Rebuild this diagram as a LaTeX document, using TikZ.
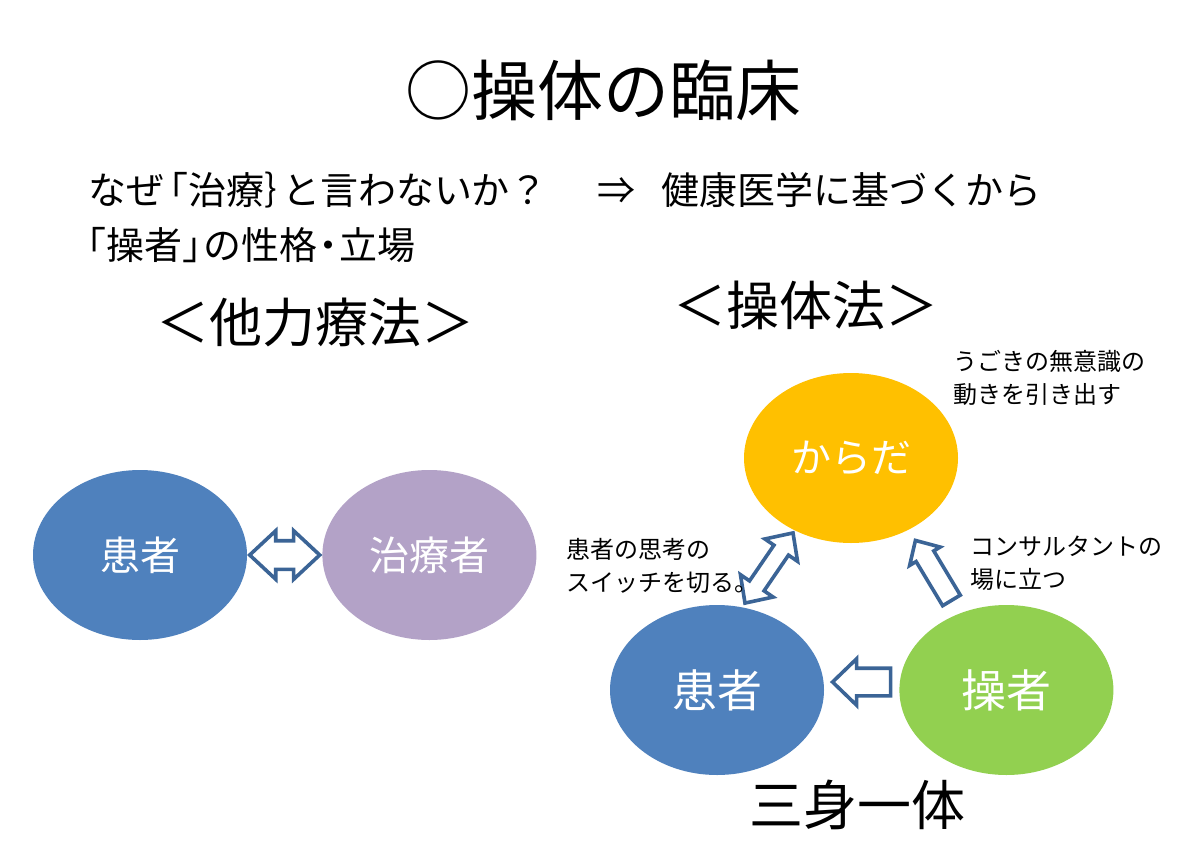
\documentclass[tikz,border=0pt]{standalone}
\usepackage{fontspec}
\setmainfont{Noto Sans CJK JP}
\usetikzlibrary{positioning, shapes.geometric, shapes.arrows, calc}
\definecolor{cKanja}{HTML}{4F81BD}
\definecolor{cChiryo}{HTML}{B3A2C7}
\definecolor{cKarada}{HTML}{FFC000}
\definecolor{cSosha}{HTML}{92D050}
\definecolor{cArrow}{HTML}{3B6496}
\newcommand{\fsz}[2]{\fontsize{#1}{#2}\selectfont}
\tikzset{
  blob/.style={
    ellipse,
    fill=#1,
    draw=none,
    minimum width=214pt,
    minimum height=170pt,
    text=white,
    font=\fsz{40}{44}
  },
  heading/.style={
    inner sep=0pt,
    font=\fsz{#1}{#1}
  },
  note/.style={
    anchor=north west,
    inner sep=0pt,
    align=left,
    font=\fsz{24}{33}
  },
  blockarrow/.style={
    draw=cArrow,
    fill=white,
    line width=3.6pt,
    inner xsep=0pt,
    minimum width=1pt
  }
}

\begin{document}
\begin{tikzpicture}[x=1pt, y=-1pt, node distance=75pt]
  \useasboundingbox[fill=white] (0,0) rectangle (1200,849);

  \node[heading=66] (title) at (603,90) {○操体の臨床};
  \node[heading=38, anchor=west] (why) at (88,190)
    {なぜ\hspace{-0.35em}「治療｝\hspace{-0.55em}と言わないか？\hspace{1.3em}⇒\hspace{0.7em}健康医学に基づくから};
  \node[heading=38, anchor=west] (role) at (68,245)
    {「操者」\hspace{-0.45em}の性格\hspace{-0.2em}・\hspace{-0.2em}立場};
  \node[heading=53] (tariki) at (315,322) {＜他力療法＞};
  \node[heading=53] (sotai) at (806,305) {＜操体法＞};

  % left: other-power therapy
  \node[blob=cKanja] (kanjaL) at (140,555) {患者};
  \node[blob=cChiryo, right=of kanjaL] (chiryo) {治療者};
  \node[blockarrow, double arrow, inner ysep=12.5pt, double arrow head extend=10pt,
    double arrow tip angle=86, minimum height=70pt]
    (both) at ($(kanjaL)!0.5!(chiryo)$) {};

  % right: sotai method
  \node[blob=cKarada] (karada) at (851,458) {からだ};
  \node[blob=cKanja, font=\fsz{45}{48}] (kanja) at (717,690) {患者};
  \node[blob=cSosha, font=\fsz{45}{48}, right=of kanja] (sosha) {操者};

  \node[blockarrow, single arrow, inner ysep=12pt, single arrow head extend=9.5pt,
    single arrow tip angle=88, minimum height=58pt, xshift=7pt, yshift=8pt, rotate=180]
    (lead) at ($(kanja)!0.5!(sosha)$) {};
  \node[blockarrow, double arrow, inner ysep=7pt, double arrow head extend=11pt,
    double arrow tip angle=87, minimum height=85pt, xshift=-15pt, yshift=6pt, rotate=55.6]
    (switch) at ($(karada)!0.5!(kanja)$) {};
  \node[blockarrow, single arrow, inner ysep=8.5pt, single arrow head extend=7.5pt,
    single arrow tip angle=88, minimum height=70pt, xshift=7.5pt, yshift=-1pt, rotate=121]
    (consult) at ($(karada)!0.5!(sosha)$) {};

  \node[note] (noteKarada) at (953,350) {うごきの無意識の\\動きを引き出す};
  \node[note] (noteKanja) at (566,538) {患者の思考の\\スイッチを切る。};
  \node[note] (noteSosha) at (970,536) {コンサルタントの\\場に立つ};

  \node[heading=54] (ittai) at (857,805) {三身一体};
\end{tikzpicture}
\end{document}
